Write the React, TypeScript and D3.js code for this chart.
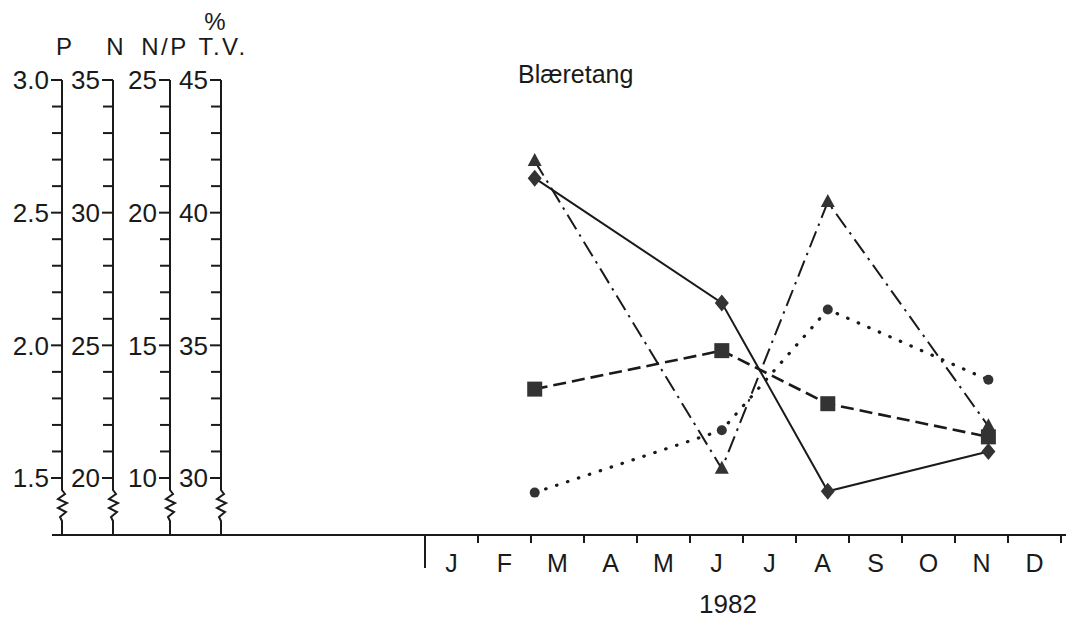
import React from 'react';
import * as d3 from 'd3';

// ---- data ----
const months = ['J', 'F', 'M', 'A', 'M', 'J', 'J', 'A', 'S', 'O', 'N', 'D'];
const sampleMonths = [2.07, 5.6, 7.6, 10.63]; // fractional month index (0 = start of Jan)
const pValues = [2.63, 2.16, 1.45, 1.6];
const nValues = [23.35, 24.8, 22.8, 21.55];
const npValues = [9.45, 11.8, 16.35, 13.7];
const tvValues = [41.95, 30.35, 40.4, 31.95];

const axisNames = ['P', 'N', 'N/P', 'T.V.'];
const axisMins = [1.5, 20, 10, 30];
const axisMaxs = [3.0, 35, 25, 45];
const axisMinorSteps = [0.1, 1, 1, 1];
const axisMajorSteps = [0.5, 5, 5, 5];
const yearLabel = '1982';
const titleLabel = 'Blæretang';
const unitLabel = '%';

// ---- layout ----
const W = 1066;
const H = 620;
const axisX = [62, 113, 170, 221];
const yTop = 80;
const yBottom = 478;
const baseY = 535;
const FONT = "'Liberation Sans', Arial, Helvetica, sans-serif";
const INK = '#1a1a1a';
const MARK = '#333';

const xScale = d3.scaleLinear().domain([0, 12]).range([425, 1061]);
const yScales = axisMins.map((mn, i) =>
  d3.scaleLinear().domain([mn, axisMaxs[i]]).range([yBottom, yTop])
);

type Shape = 'diamond' | 'square' | 'circle' | 'triangle';
const series: { values: number[]; axis: number; dash: string; width: number; shape: Shape; cap: string }[] = [
  { values: tvValues, axis: 3, dash: '17,6,2.5,6', width: 2, shape: 'triangle', cap: 'butt' },
  { values: npValues, axis: 2, dash: '0.5,11', width: 3.2, shape: 'circle', cap: 'round' },
  { values: nValues, axis: 1, dash: '13,6', width: 2.6, shape: 'square', cap: 'butt' },
  { values: pValues, axis: 0, dash: '', width: 2, shape: 'diamond', cap: 'butt' },
];

function markerPath(shape: Shape, x: number, y: number): string {
  switch (shape) {
    case 'diamond':
      return `M${x},${y - 8.5}L${x + 7},${y}L${x},${y + 8.5}L${x - 7},${y}Z`;
    case 'square':
      return `M${x - 7.5},${y - 7.5}h15v15h-15Z`;
    case 'triangle':
      return `M${x},${y - 8}L${x + 7},${y + 5}L${x - 7},${y + 5}Z`;
    default:
      return '';
  }
}

function zigzag(x: number): string {
  const pts: [number, number][] = [
    [x, yBottom],
    [x, 490],
    [x + 3, 494],
    [x - 4, 499],
    [x + 5, 503],
    [x - 4, 508],
    [x + 4, 512],
    [x - 2, 517],
    [x, 521],
    [x, baseY],
  ];
  return d3.line()(pts) as string;
}

export default function App() {
  const line = d3.line<[number, number]>();
  return (
    <svg
      width={W}
      height={H}
      style={{ position: 'absolute', left: 0, top: 0, background: '#fff' }}
      fontFamily={FONT}
    >
      <rect width={W} height={H} fill="#fff" />

      {/* header labels */}
      <text x={215} y={30} fontSize={24} textAnchor="middle" fill={INK}>{unitLabel}</text>
      {axisNames.map((nm, i) => (
        <text
          key={nm}
          x={axisX[i] + (i === 2 ? -5 : 2)}
          y={55}
          fontSize={24}
          textAnchor="middle"
          letterSpacing={nm.length > 1 ? 2.5 : 0}
          fill={INK}
        >
          {nm}
        </text>
      ))}

      {/* vertical axes */}
      {axisX.map((ax, i) => {
        const sc = yScales[i];
        const n = Math.round((axisMaxs[i] - axisMins[i]) / axisMinorSteps[i]);
        const ticks = d3.range(n + 1).map((k) => axisMins[i] + k * axisMinorSteps[i]);
        const fmt = i === 0 ? d3.format('.1f') : d3.format('d');
        return (
          <g key={i} stroke={INK} fill="none">
            <line x1={ax} x2={ax} y1={yTop} y2={yBottom} strokeWidth={2} />
            <path d={zigzag(ax)} strokeWidth={2} />
            {ticks.map((v, k) => {
              const r = v / axisMajorSteps[i];
              const major = Math.abs(r - Math.round(r)) < 1e-6;
              const y = sc(v);
              return (
                <g key={k}>
                  <line x1={ax - (major ? 11 : 10)} x2={ax} y1={y} y2={y} strokeWidth={2} />
                  {major && (
                    <text
                      x={ax - 13}
                      y={y}
                      dy="0.36em"
                      fontSize={26}
                      textAnchor="end"
                      fill={INK}
                      stroke="none"
                    >
                      {fmt(v)}
                    </text>
                  )}
                </g>
              );
            })}
          </g>
        );
      })}

      {/* baseline */}
      <line x1={52} x2={W} y1={baseY} y2={baseY} stroke={INK} strokeWidth={2.2} />

      {/* month axis */}
      <line x1={xScale(0)} x2={xScale(0)} y1={baseY} y2={568} stroke={INK} strokeWidth={2} />
      {d3.range(1, 13).map((m) => (
        <line key={m} x1={xScale(m)} x2={xScale(m)} y1={baseY} y2={baseY + 8} stroke={INK} strokeWidth={2} />
      ))}
      {months.map((m, i) => (
        <text key={i} x={xScale(i + 0.5)} y={572} fontSize={25} textAnchor="middle" fill={INK}>
          {m}
        </text>
      ))}
      <text x={728} y={613} fontSize={26} textAnchor="middle" fill={INK}>{yearLabel}</text>

      {/* title */}
      <text x={518} y={83} fontSize={25} fill={INK}>{titleLabel}</text>

      {/* series lines */}
      {series.map((s, si) => {
        const pts = s.values.map((v, k) => [xScale(sampleMonths[k]), yScales[s.axis](v)] as [number, number]);
        return (
          <path
            key={si}
            d={line(pts) as string}
            fill="none"
            stroke={INK}
            strokeWidth={s.width}
            strokeDasharray={s.dash || undefined}
            strokeLinecap={s.cap as any}
          />
        );
      })}

      {/* markers */}
      {series.map((s, si) =>
        s.values.map((v, k) => {
          const x = xScale(sampleMonths[k]);
          const y = yScales[s.axis](v);
          if (s.shape === 'circle') {
            return <circle key={`${si}-${k}`} cx={x} cy={y} r={5} fill={MARK} />;
          }
          return <path key={`${si}-${k}`} d={markerPath(s.shape, x, y)} fill={MARK} />;
        })
      )}
    </svg>
  );
}
